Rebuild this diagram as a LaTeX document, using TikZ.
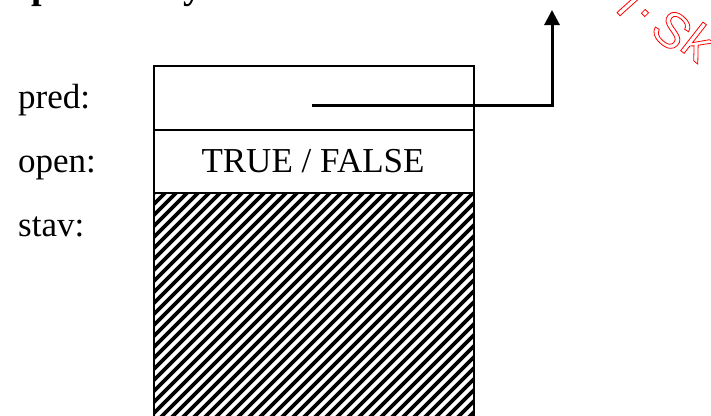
\documentclass[tikz,border=0pt]{standalone}
\usepackage{fontspec}
\setmainfont{Liberation Serif}
\newfontfamily\wmfont{Liberation Sans}
\usetikzlibrary{arrows.meta}
\newcommand\outlinetxt[1]{\special{pdf:literal direct 1 Tr 0.8 w}#1\special{pdf:literal direct 0 Tr}}
\tikzset{
  lbl/.style={font=\fontsize{35}{40}\selectfont, inner sep=0pt, anchor=base west},
  val/.style={font=\fontsize{35}{40}\selectfont, inner sep=0pt, anchor=base},
  field/.style={draw=black, line width=2pt, minimum width=320pt, inner sep=0pt},
  hatchline/.style={line width=3.8pt, black},
  ptrline/.style={line width=3pt, black, -{Triangle[length=15pt,width=15pt]}},
  wm/.style={font=\wmfont\fontsize{50}{54}\selectfont, red, inner sep=0pt},
  titlefont/.style={font=\fontsize{38}{44}\selectfont\bfseries, inner sep=0pt, anchor=base west}
}
\begin{document}
\begin{tikzpicture}[x=1pt,y=-1pt]
\useasboundingbox (0,0) rectangle (711,415);
\clip (0,0) rectangle (711,415);
\fill[white] (0,0) rectangle (711,415);
% cut-off title
\node[titlefont] (title) at (10,-1.5) {Spracovaný};
% hatch of the stav field
\begin{scope}
  \clip (153,192) rectangle (473,432);
  \foreach \k in {0,...,62}
    \draw[hatchline] (-100+\k*11,436) -- ++(270,-270);
\end{scope}
% fields
\node[field, minimum height=64pt, anchor=north west] (predbox) at (153,65) {};
\node[field, minimum height=63pt, anchor=north west] (openbox) at (153,129) {};
\node[field, minimum height=240pt, anchor=north west] (stavbox) at (153,192) {};
\node[val] (openval) at (313,172) {TRUE / FALSE};
% labels
\node[lbl] (lpred) at (18,108) {pred:};
\node[lbl] (lopen) at (18,172) {open:};
\node[lbl] (lstav) at (18,236) {stav:};
% pointer
\coordinate (ptrstart) at (312,105);
\coordinate (ptrcorner) at (552,105);
\coordinate (ptrend) at (552,10);
\draw[ptrline] (ptrstart) -- (ptrcorner) -- (ptrend);
% watermark
\node[wm, rotate=-48] (wmi) at (632,2) {\outlinetxt{i}};
\node[wm, rotate=-45] (wmdot) at (645,13) {\outlinetxt{.}};
\node[wm, rotate=-42] (wms) at (672,30) {\outlinetxt{S}};
\node[wm, rotate=-38] (wmk) at (699,42) {\outlinetxt{k}};
\end{tikzpicture}
\end{document}
